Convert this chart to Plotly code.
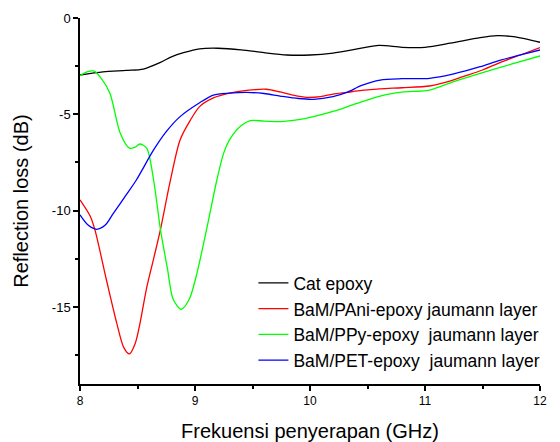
import plotly.graph_objects as go

# Frequency (GHz) and reflection loss (dB)
cat_f = [8.0, 8.2, 8.4, 8.55, 8.7, 8.8, 8.9, 9.04, 9.2, 9.4, 9.6, 9.8, 10.0, 10.2,
         10.4, 10.6, 10.8, 11.0, 11.22, 11.48, 11.63, 11.77, 12.0]
cat_rl = [-2.96, -2.8, -2.72, -2.65, -2.3, -2.0, -1.8, -1.6, -1.57, -1.65, -1.8, -1.92,
          -1.92, -1.82, -1.62, -1.42, -1.52, -1.52, -1.31, -1.02, -0.92, -0.97, -1.26]

pani_f = [8.0, 8.09, 8.13, 8.23, 8.32, 8.38, 8.43, 8.48, 8.52, 8.58, 8.64, 8.70, 8.78,
          8.87, 8.96, 9.04, 9.16, 9.30, 9.45, 9.62, 9.74, 9.85, 9.97, 10.09, 10.2, 10.32,
          10.45, 10.61, 10.8, 11.04, 11.2, 11.33, 11.5, 11.7, 11.83, 12.0]
pani_rl = [-9.44, -10.3, -11.0, -13.6, -15.85, -17.1, -17.44, -16.9, -15.9, -14.0, -12.5,
           -10.97, -8.6, -6.33, -5.3, -4.6, -4.15, -3.9, -3.76, -3.70, -3.84, -4.0, -4.12,
           -4.08, -3.95, -3.86, -3.76, -3.68, -3.62, -3.53, -3.3, -3.04, -2.7, -2.2, -1.92,
           -1.54]

ppy_f = [8.0, 8.06, 8.12, 8.18, 8.26, 8.35, 8.43, 8.48, 8.52, 8.58, 8.64, 8.70, 8.76,
         8.81, 8.88, 8.95, 9.01, 9.1, 9.19, 9.25, 9.30, 9.4, 9.48, 9.6, 9.74, 9.9, 10.03,
         10.2, 10.4, 10.61, 10.8, 11.04, 11.25, 11.48, 11.75, 12.0]
ppy_rl = [-3.0, -2.8, -2.75, -3.1, -3.91, -5.98, -6.76, -6.7, -6.54, -6.76, -8.41, -11.0,
          -13.0, -14.6, -15.12, -14.6, -13.42, -11.0, -8.41, -7.0, -6.33, -5.6, -5.33,
          -5.35, -5.38, -5.28, -5.12, -4.85, -4.45, -4.05, -3.85, -3.74, -3.3, -2.87,
          -2.4, -1.97]

pet_f = [8.0, 8.07, 8.145, 8.22, 8.29, 8.4, 8.49, 8.64, 8.75, 8.87, 9.04, 9.16, 9.3,
         9.45, 9.6, 9.74, 9.9, 10.03, 10.2, 10.32, 10.45, 10.61, 10.8, 11.04, 11.25,
         11.48, 11.65, 11.83, 12.0]
pet_rl = [-10.22, -10.75, -10.97, -10.75, -10.14, -9.2, -8.41, -6.85, -5.9, -5.12, -4.4,
          -4.0, -3.9, -3.86, -3.92, -4.05, -4.18, -4.22, -4.08, -3.86, -3.5, -3.22, -3.15,
          -3.13, -2.9, -2.53, -2.2, -1.92, -1.66]

names = ["Cat epoxy",
         "BaM/PAni-epoxy jaumann layer",
         "BaM/PPy-epoxy \u00a0jaumann layer",
         "BaM/PET-epoxy \u00a0jaumann layer"]
colors = ["#000000", "#ff0000", "#00ff00", "#0000ff"]
series = [(cat_f, cat_rl), (pani_f, pani_rl), (ppy_f, ppy_rl), (pet_f, pet_rl)]

x_ticks = [8, 9, 10, 11, 12]
y_ticks = [-15, -10, -5, 0]

FONT = "Liberation Sans, Arial, sans-serif"

fig = go.Figure()
for (f, rl), name, col in zip(series, names, colors):
    fig.add_trace(go.Scatter(x=f, y=rl, mode="lines", name=name,
                             line=dict(color=col, width=1.3, shape="spline", smoothing=0.8)))

fig.update_layout(
    width=560, height=442,
    margin=dict(l=80, r=20, t=18, b=58, autoexpand=False),
    paper_bgcolor="white", plot_bgcolor="white",
    font=dict(family=FONT, color="black"),
    showlegend=True,
    legend=dict(x=0.377, y=0.325, xanchor="left", yanchor="top",
                bgcolor="rgba(0,0,0,0)", font=dict(size=17.5, family=FONT),
                tracegroupgap=0, itemwidth=30),
)
fig.update_xaxes(
    range=[8, 12], tickvals=x_ticks, ticktext=[str(v) for v in x_ticks],
    showgrid=False, zeroline=False, showline=True, linecolor="black", linewidth=1.5,
    ticks="outside", ticklen=5, tickwidth=1.5, tickcolor="black",
    minor=dict(dtick=0.5, tick0=8, ticks="outside", ticklen=3, tickwidth=1.5, tickcolor="black", showgrid=False),
    tickfont=dict(size=12, family=FONT),
    title=dict(text="Frekuensi penyerapan (GHz)", font=dict(size=20, family=FONT), standoff=18),
)
fig.update_yaxes(
    range=[-19, 0], tickvals=y_ticks, ticktext=[str(v) for v in y_ticks],
    showgrid=False, zeroline=False, showline=True, linecolor="black", linewidth=1.5,
    ticks="outside", ticklen=5, tickwidth=1.5, tickcolor="black",
    minor=dict(dtick=2.5, tick0=0, ticks="outside", ticklen=3, tickwidth=1.5, tickcolor="black", showgrid=False),
    tickfont=dict(size=13, family=FONT),
    title=dict(text="Reflection loss (dB)", font=dict(size=20, family=FONT), standoff=18),
)

fig.write_html("out.html")
